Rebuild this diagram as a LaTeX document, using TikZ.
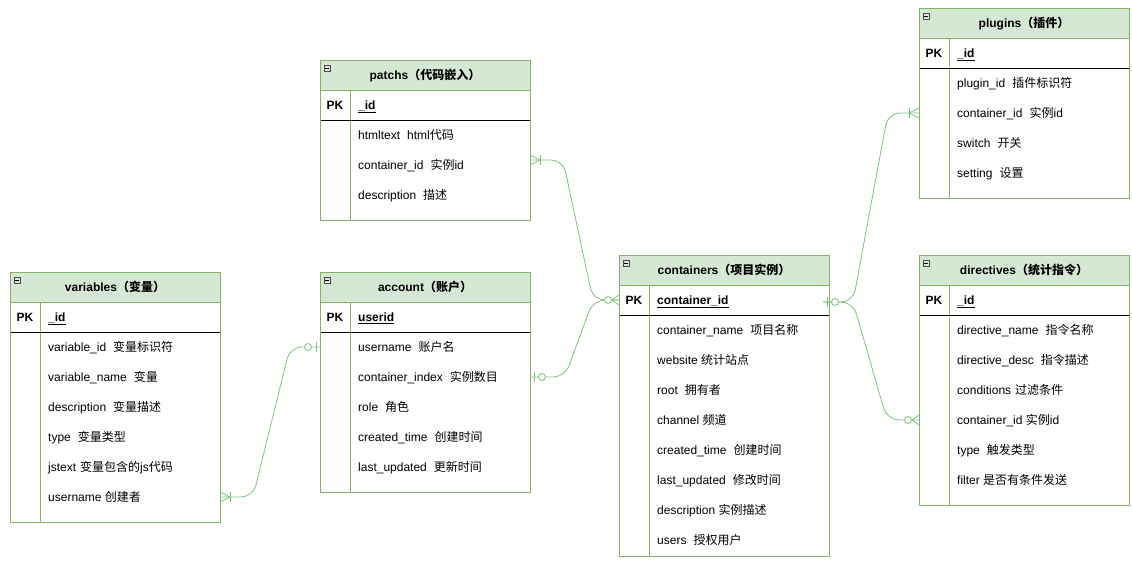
\documentclass[tikz,border=0pt]{standalone}
\usepackage{fontspec}
\setmainfont{Liberation Sans}
\newfontfamily\cjk{Noto Sans CJK SC}
\newcommand\zhs[1]{{\cjk #1}}
\newcommand\gw{\hspace{7pt}}
\definecolor{tgreen}{HTML}{82B366}
\definecolor{hgreen}{HTML}{D5E8D4}
\definecolor{cgreen}{HTML}{7DC27A}
\tikzset{
  tline/.style={draw=tgreen, line width=0.9pt},
  hdrfill/.style={fill=hgreen},
  hdrtxt/.style={inner sep=0pt, font=\fontsize{12}{14}\selectfont\bfseries, anchor=base},
  pktxt/.style={inner sep=0pt, font=\fontsize{12}{14}\selectfont\bfseries, anchor=base},
  fld/.style={inner sep=0pt, font=\fontsize{12}{14}\selectfont, anchor=base west},
  conn/.style={draw=cgreen, line width=0.8pt, rounded corners=12pt},
  mk/.style={draw=cgreen, line width=0.8pt},
  tblbox/.style={draw=none, minimum width=210pt, inner sep=0pt},
}
% #1 name, #2 x, #3 y, #4 height, #5 title, #6 pk field
\newcommand\ertab[6]{%
  \node[tblbox, minimum height=#4pt] (#1) at (#2+105,#3+#4/2) {};
  \fill[hdrfill] (#2,#3) rectangle (#2+210,#3+30);
  \fill[white] (#2,#3+30) rectangle (#2+210,#3+#4);
  \draw[tline] (#2,#3+30) -- (#2+210,#3+30);
  \draw[tline] (#2+30,#3+30) -- (#2+30,#3+#4);
  \draw[black, line width=0.9pt] (#2,#3+60) -- (#2+210,#3+60);
  \draw[tline] (#2,#3) rectangle (#2+210,#3+#4);
  \draw[fill=gray!25, draw=gray!60!black, line width=0.5pt] (#2+4,#3+5) rectangle (#2+10,#3+11);
  \draw[black, line width=0.6pt] (#2+5.3,#3+8) -- (#2+8.7,#3+8);
  \node[hdrtxt] (#1-title) at (#2+105,#3+19.3) {#5};
  \node[pktxt] (#1-pk) at (#2+15,#3+49.3) {PK};
  \node[fld, font=\fontsize{12}{14}\selectfont\bfseries] (#1-pkf) at (#2+38,#3+49.3) {\underline{#6}};
}
% #1 name, #2 x, #3 y, #4 list
\newcommand\ertrows[4]{%
  \foreach \t [count=\i] in {#4} {
    \node[fld] (#1-r\i) at (#2+38,#3+79.3+30*\i-30) {\t};
  }
}
\begin{document}
\begin{tikzpicture}[x=1pt,y=-1pt]
\useasboundingbox (0,0) rectangle (1132,565);

% tables
\ertab{patchs}{320}{60}{160}{patchs\zhs{（代码嵌入）}}{\_id}
\ertrows{patchs}{320}{60}{htmltext\gw html\zhs{代码}, container\_id\gw\zhs{实例}id, description\gw\zhs{描述}}

\ertab{vars}{10}{272}{250}{variables\zhs{（变量）}}{\_id}
\ertrows{vars}{10}{272}{variable\_id\gw\zhs{变量标识符}, variable\_name\gw\zhs{变量}, description\gw\zhs{变量描述}, type\gw\zhs{变量类型}, jstext\hspace{4pt}\zhs{变量包含的}js\zhs{代码}, username \zhs{创建者}}

\ertab{account}{320}{272}{220}{account\zhs{（账户）}}{userid}
\ertrows{account}{320}{272}{username\gw\zhs{账户名}, container\_index\gw\zhs{实例数目}, role\gw\zhs{角色}, created\_time\gw\zhs{创建时间}, last\_updated\gw\zhs{更新时间}}

\ertab{cont}{619}{255}{301}{containers\zhs{（项目实例）}}{container\_id}
\ertrows{cont}{619}{255}{container\_name\gw\zhs{项目名称}, website \zhs{统计站点}, root\gw\zhs{拥有者}, channel \zhs{频道}, created\_time\gw\zhs{创建时间}, last\_updated\gw\zhs{修改时间}, description \zhs{实例描述}, users\gw\zhs{授权用户}}

\ertab{plugins}{919}{8}{190}{plugins\zhs{（插件）}}{\_id}
\ertrows{plugins}{919}{8}{plugin\_id\gw\zhs{插件标识符}, container\_id\gw\zhs{实例}id, switch\gw\zhs{开关}, setting\gw\zhs{设置}}

\ertab{dirs}{919}{255}{250}{directives\zhs{（统计指令）}}{\_id}
\ertrows{dirs}{919}{255}{directive\_name\gw\zhs{指令名称}, directive\_desc\gw\zhs{指令描述}, conditions\hspace{4pt}\zhs{过滤条件}, container\_id \zhs{实例}id, type\gw\zhs{触发类型}, filter \zhs{是否有条件发送}}

% connector end points
\coordinate (pA) at (530,160);
\coordinate (cL) at (619,300);
\coordinate (aR) at (530,377);
\coordinate (aL) at (320,347);
\coordinate (vR) at (220,497);
\coordinate (cR) at (823,302);
\coordinate (plL) at (919,113);
\coordinate (dL) at (919,420);

% connectors
\draw[conn] (pA) -- (563,160) -- (593,300) -- (cL);
\draw[conn] (aR) -- (565,377) -- (593,300) -- (cL);
\draw[conn] (vR) -- (253,497) -- (290,347) -- (aL);
\draw[conn] (cR) -- (853,302) -- (888,113) -- (plL);
\draw[conn] (cR) -- (853,302) -- (887,420) -- (dL);

% markers: one-or-many at patchs right
\draw[mk] ([yshift=-5pt]pA) -- ([xshift=10pt]pA) -- ([yshift=5pt]pA);
\draw[mk] ([xshift=10pt,yshift=-5pt]pA) -- ([xshift=10pt,yshift=5pt]pA);
% one-or-many at variables right
\draw[mk] ([yshift=-5pt]vR) -- ([xshift=10pt]vR) -- ([yshift=5pt]vR);
\draw[mk] ([xshift=10pt,yshift=-5pt]vR) -- ([xshift=10pt,yshift=5pt]vR);
% one-or-many at plugins left
\draw[mk] ([yshift=-5pt]plL) -- ([xshift=-10pt]plL) -- ([yshift=5pt]plL);
\draw[mk] ([xshift=-10pt,yshift=-5pt]plL) -- ([xshift=-10pt,yshift=5pt]plL);
% zero-or-many at containers left
\draw[mk] ([yshift=-5pt]cL) -- ([xshift=-7pt]cL) -- ([yshift=5pt]cL);
\draw[mk, fill=white] ([xshift=-11pt]cL) circle[radius=3.5pt];
% zero-or-many at directives left
\draw[mk] ([yshift=-5pt]dL) -- ([xshift=-7pt]dL) -- ([yshift=5pt]dL);
\draw[mk, fill=white] ([xshift=-11pt]dL) circle[radius=3.5pt];
% zero-or-one at account left
\draw[mk] ([xshift=-4pt,yshift=-5pt]aL) -- ([xshift=-4pt,yshift=5pt]aL);
\draw[mk, fill=white] ([xshift=-12pt]aL) circle[radius=3.5pt];
% zero-or-one at account right
\draw[mk] ([xshift=4pt,yshift=-5pt]aR) -- ([xshift=4pt,yshift=5pt]aR);
\draw[mk, fill=white] ([xshift=12pt]aR) circle[radius=3.5pt];
% zero-or-one at containers right
\draw[mk] ([xshift=4pt,yshift=-5pt]cR) -- ([xshift=4pt,yshift=5pt]cR);
\draw[mk, fill=white] ([xshift=12pt]cR) circle[radius=3.5pt];
\end{tikzpicture}
\end{document}
